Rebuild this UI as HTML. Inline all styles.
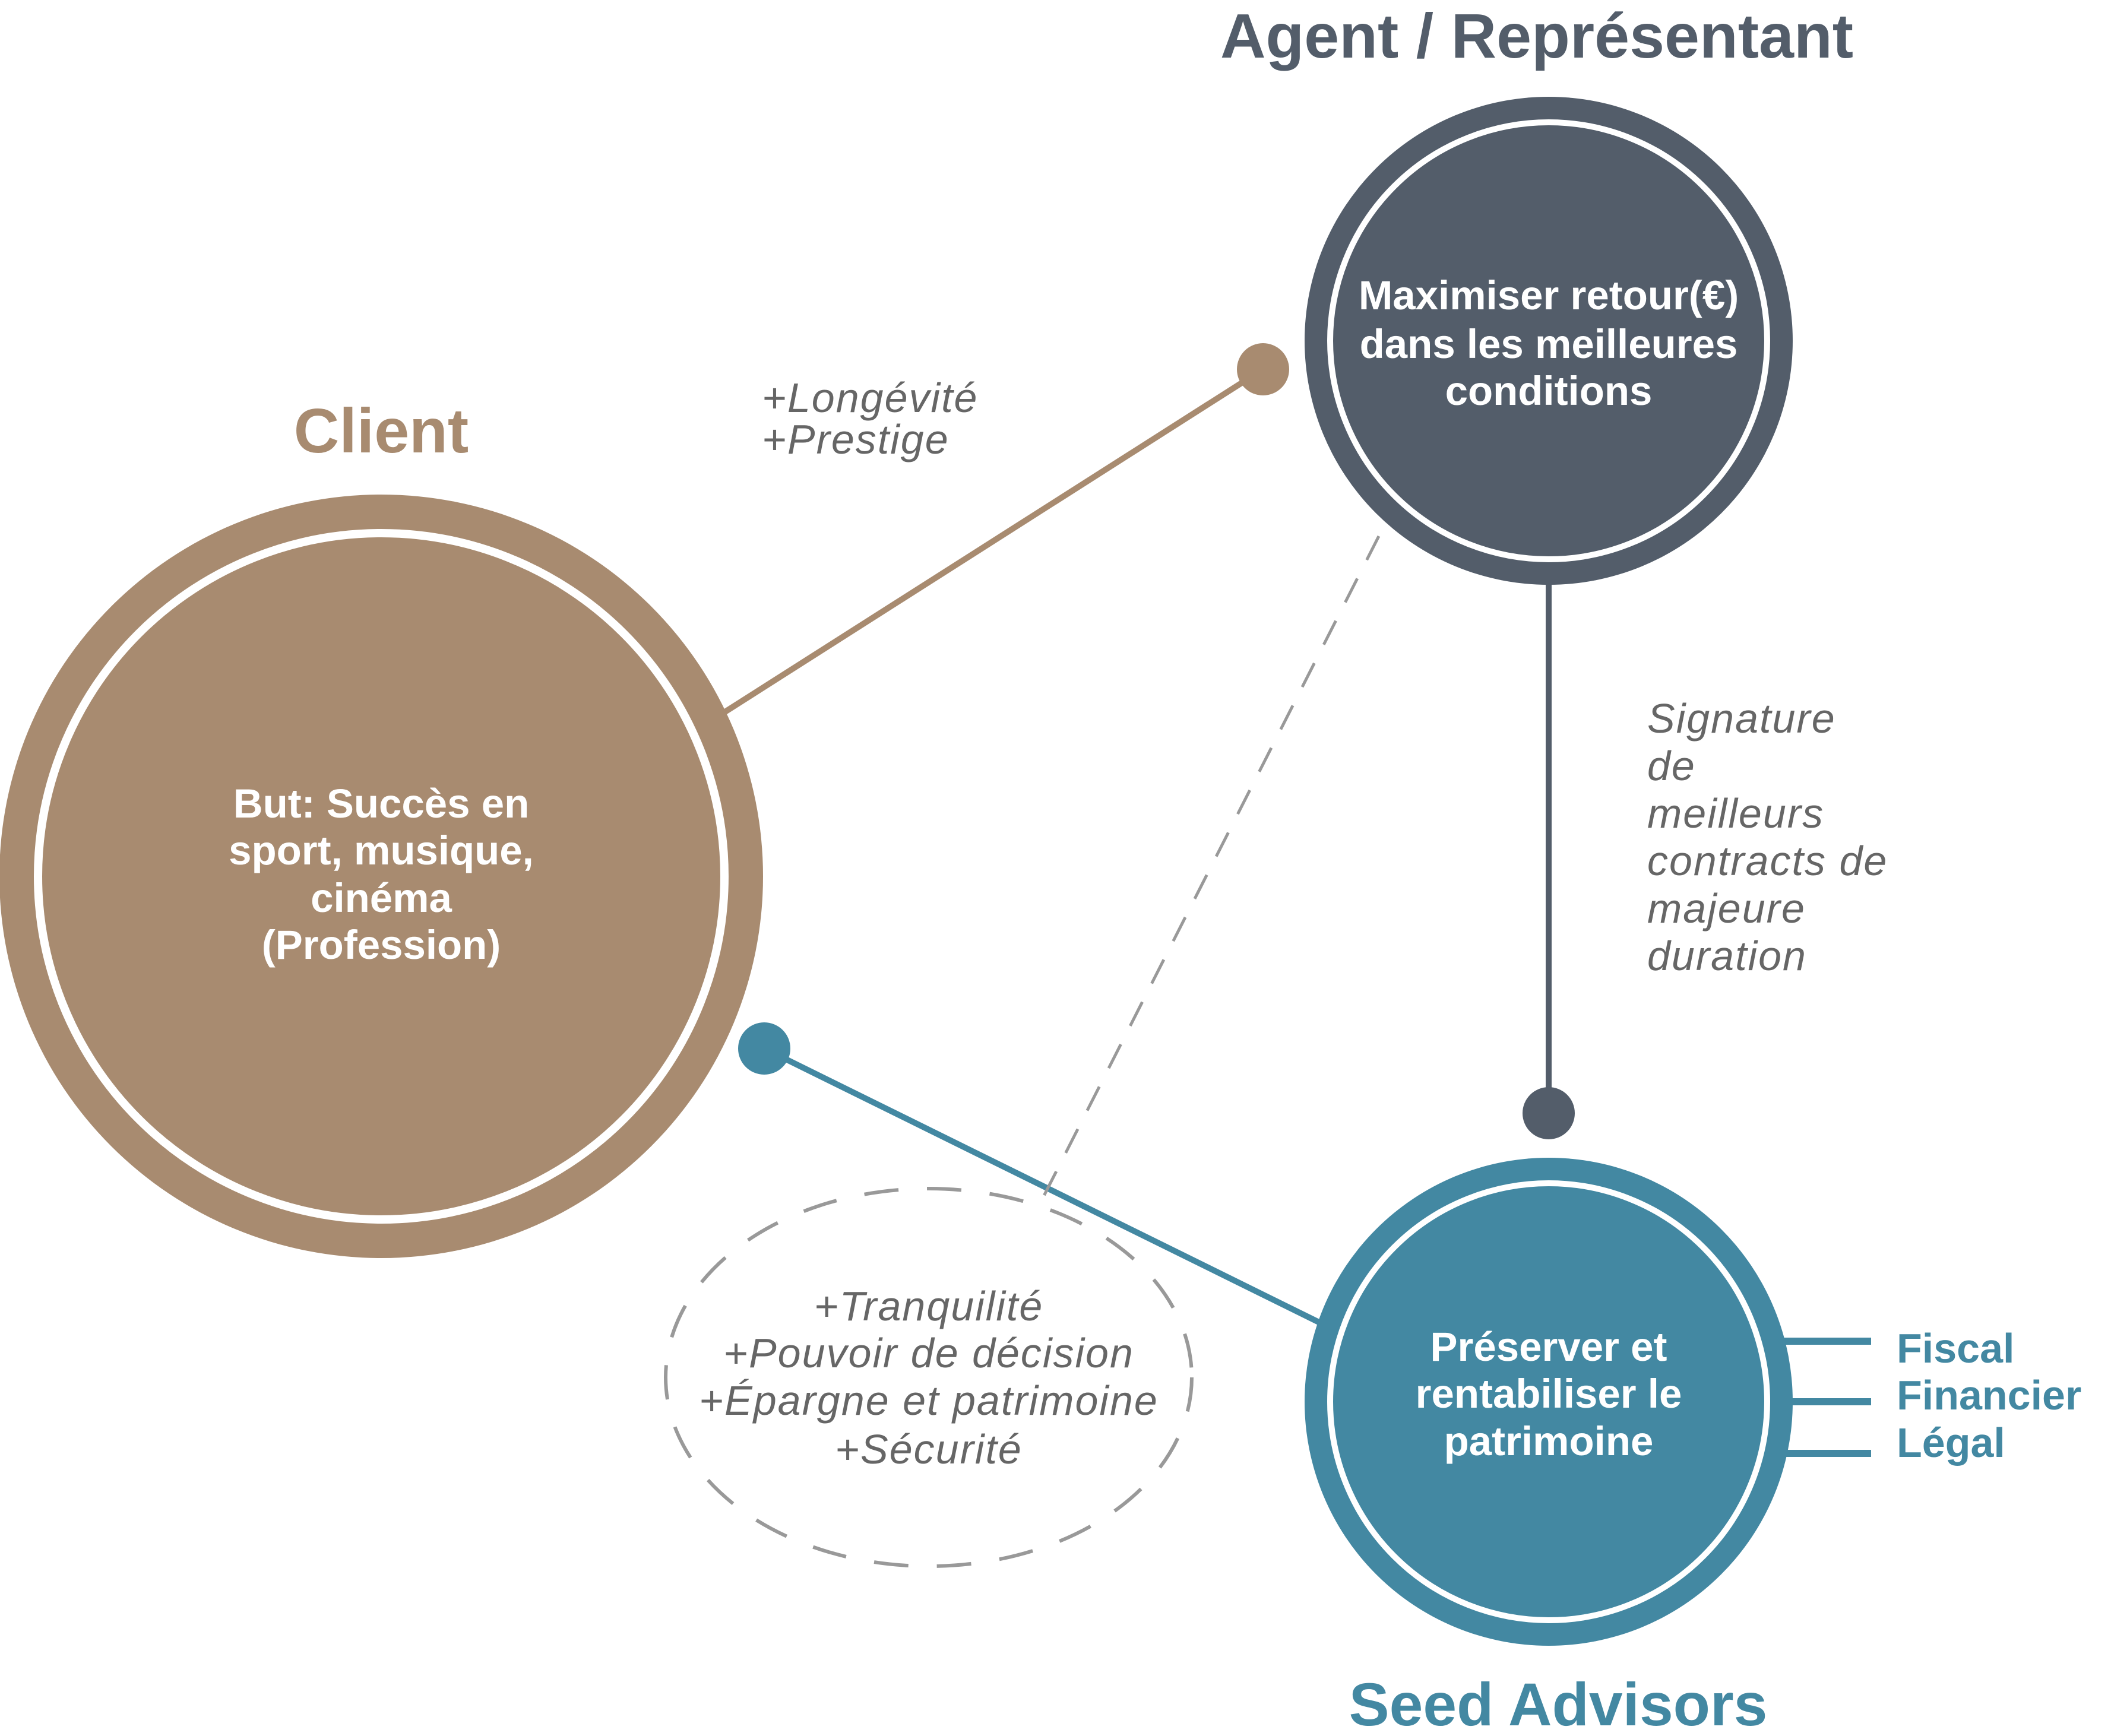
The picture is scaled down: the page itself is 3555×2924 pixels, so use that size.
<!DOCTYPE html>
<html><head><meta charset="utf-8"><style>
html,body{margin:0;padding:0;background:#fff;}
svg{display:block;}
text{font-family:"Liberation Sans",sans-serif;}
.t{font-weight:bold;text-anchor:middle;}
.n{font-weight:bold;fill:#fff;text-anchor:middle;font-size:69px;}
.i{font-style:italic;fill:#666;font-size:70px;letter-spacing:2px;}
</style></head><body>
<svg width="3555" height="2924" viewBox="0 0 3555 2924" xmlns="http://www.w3.org/2000/svg">
<line x1="1221" y1="1199" x2="2127" y2="622" stroke="#A88B70" stroke-width="10"/>
<circle cx="2127" cy="622" r="44" fill="#A88B70"/>
<line x1="1287" y1="1766" x2="2225" y2="2229" stroke="#4388A2" stroke-width="10"/>
<circle cx="1287" cy="1766" r="44" fill="#4388A2"/>
<line x1="2608" y1="980" x2="2608" y2="1875" stroke="#535D6A" stroke-width="10"/>
<circle cx="2608" cy="1875" r="44" fill="#535D6A"/>
<line x1="2322" y1="903" x2="1755" y2="2020" stroke="#999" stroke-width="5" stroke-dasharray="45,35"/>
<ellipse cx="1564" cy="2320" rx="443" ry="318" fill="none" stroke="#999" stroke-width="6" stroke-dasharray="58,48"/>
<line x1="3000" y1="2259" x2="3151" y2="2259" stroke="#4388A2" stroke-width="12"/>
<line x1="3000" y1="2361" x2="3151" y2="2361" stroke="#4388A2" stroke-width="12"/>
<line x1="3000" y1="2448" x2="3151" y2="2448" stroke="#4388A2" stroke-width="12"/>
<circle cx="642" cy="1476" r="643" fill="#A88B70"/>
<circle cx="642" cy="1476" r="578" fill="none" stroke="#fff" stroke-width="14"/>
<circle cx="2608" cy="574" r="411" fill="#535D6A"/>
<circle cx="2608" cy="574" r="368" fill="none" stroke="#fff" stroke-width="10"/>
<circle cx="2608" cy="2361" r="411" fill="#4388A2"/>
<circle cx="2608" cy="2361" r="368" fill="none" stroke="#fff" stroke-width="10"/>
<text class="t" x="642" y="762" font-size="106" fill="#A88B70">Client</text>
<text class="t" x="2588" y="97" font-size="106" fill="#535D6A">Agent / Représentant</text>
<text class="t" x="2624" y="2906" font-size="102" fill="#4388A2">Seed Advisors</text>
<text class="n" x="642" y="1377">But: Succès en</text>
<text class="n" x="642" y="1456">sport, musique,</text>
<text class="n" x="642" y="1536">cinéma</text>
<text class="n" x="642" y="1615">(Profession)</text>
<text class="n" x="2608" y="521" font-size="72">Maximiser retour(€)</text>
<text class="n" x="2608" y="603" font-size="72">dans les meilleures</text>
<text class="n" x="2608" y="682" font-size="72">conditions</text>
<text class="n" x="2608" y="2292">Préserver et</text>
<text class="n" x="2608" y="2371">rentabiliser le</text>
<text class="n" x="2608" y="2451">patrimoine</text>
<text class="i" x="1283" y="694">+Longévité</text>
<text class="i" x="1283" y="764">+Prestige</text>
<text class="i" x="2774" y="1234">Signature</text>
<text class="i" x="2774" y="1314">de</text>
<text class="i" x="2774" y="1394">meilleurs</text>
<text class="i" x="2774" y="1474">contracts de</text>
<text class="i" x="2774" y="1554">majeure</text>
<text class="i" x="2774" y="1634">duration</text>
<g text-anchor="middle">
<text class="i" x="1564" y="2224">+Tranquilité</text>
<text class="i" x="1564" y="2303">+Pouvoir de décision</text>
<text class="i" x="1564" y="2383">+Épargne et patrimoine</text>
<text class="i" x="1564" y="2465">+Sécurité</text>
</g>
<g font-weight="bold" fill="#4388A2" font-size="70">
<text x="3194" y="2295">Fiscal</text>
<text x="3194" y="2374">Financier</text>
<text x="3194" y="2454">Légal</text>
</g>
</svg>
</body></html>
